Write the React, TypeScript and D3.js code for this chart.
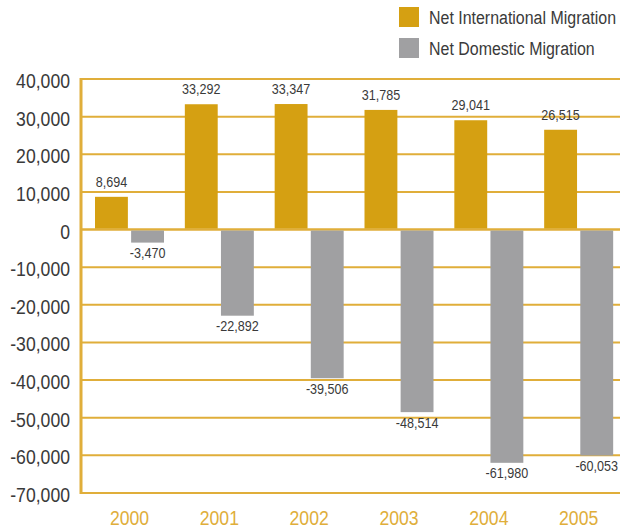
import { useEffect, useRef } from 'react';
import * as d3 from 'd3';

const YEARS = ['2000', '2001', '2002', '2003', '2004', '2005'];
const INTERNATIONAL = [8694, 33292, 33347, 31785, 29041, 26515];
const DOMESTIC = [-3470, -22892, -39506, -48514, -61980, -60053];
const SERIES = ['Net International Migration', 'Net Domestic Migration'];
const Y_TICKS = [40000, 30000, 20000, 10000, 0, -10000, -20000, -30000, -40000, -50000, -60000, -70000];

const GOLD = '#D5A012';
const GREY = '#A0A0A2';
const LINE = '#E0AE3A';
const TEXT = '#3a3a3a';
const FONT = '"Liberation Sans", Arial, sans-serif';
const SX = 0.84; // horizontal squeeze to mimic the condensed face

export default function App() {
  const svgRef = useRef<SVGSVGElement>(null);

  useEffect(() => {
    if (!svgRef.current) return;
    const svg = d3.select(svgRef.current);
    svg.selectAll('*').remove();

    const W = 620, H = 531;
    const M = { left: 81, right: 0, top: 79, bottom: 38 };

    const y = d3.scaleLinear().domain([-70000, 40000]).range([H - M.bottom, M.top]);
    const x = d3.scaleBand<string>().domain(YEARS).range([M.left, W - M.right]);
    const x1 = d3.scaleBand<string>().domain(SERIES).range([14, 83]).paddingInner(0.09);
    const fmt = (v: number) => d3.format(',')(v).replace('\u2212', '-');

    const label = (
      parent: d3.Selection<any, any, any, any>,
      tx: number, ty: number, str: string,
      size: number, fill: string, anchor = 'middle'
    ) =>
      parent.append('text')
        .attr('transform', `translate(${tx},${ty}) scale(${SX},1)`)
        .attr('text-anchor', anchor)
        .attr('font-family', FONT)
        .attr('font-size', size)
        .attr('fill', fill)
        .text(str);

    // gridlines
    svg.append('g')
      .selectAll('line')
      .data(Y_TICKS)
      .join('line')
      .attr('x1', M.left).attr('x2', W)
      .attr('y1', (d) => y(d)).attr('y2', (d) => y(d))
      .attr('stroke', LINE)
      .attr('stroke-width', (d) => (d === 0 ? 2.5 : 2));

    // y axis line
    svg.append('line')
      .attr('x1', M.left).attr('x2', M.left)
      .attr('y1', y(40000) - 1).attr('y2', y(-70000) + 1)
      .attr('stroke', LINE).attr('stroke-width', 3);

    // y tick labels
    const ticks = svg.append('g');
    Y_TICKS.forEach((t) => label(ticks, 70, y(t) + 9, fmt(t), 21, TEXT, 'end'));

    YEARS.forEach((yr, i) => {
      const g = svg.append('g').attr('transform', `translate(${x(yr)},0)`);
      const vals = [INTERNATIONAL[i], DOMESTIC[i]];
      vals.forEach((v, j) => {
        const bx = x1(SERIES[j])!;
        const bw = x1.bandwidth();
        g.append('rect')
          .attr('x', bx)
          .attr('y', v >= 0 ? y(v) : y(0) + 1)
          .attr('width', bw)
          .attr('height', Math.abs(y(v) - y(0)) - 1)
          .attr('fill', j === 0 ? GOLD : GREY);
        label(g, bx + bw / 2, v >= 0 ? y(v) - 10 : y(v) + 15.5, fmt(v), 15, TEXT);
      });
      label(g, 48.5, H - 6, yr, 21, LINE);
    });

    // legend
    const legend = svg.append('g').attr('transform', 'translate(399,7)');
    SERIES.forEach((s, i) => {
      legend.append('rect')
        .attr('x', 0).attr('y', i * 31)
        .attr('width', 20).attr('height', 20)
        .attr('fill', i === 0 ? GOLD : GREY);
      label(legend, 30, i * 31 + 17, s, 19, TEXT, 'start');
    });
  }, []);

  return (
    <div style={{ position: 'absolute', left: 0, top: 0 }}>
      <svg ref={svgRef} width={620} height={531} viewBox="0 0 620 531" style={{ display: 'block' }} />
    </div>
  );
}
